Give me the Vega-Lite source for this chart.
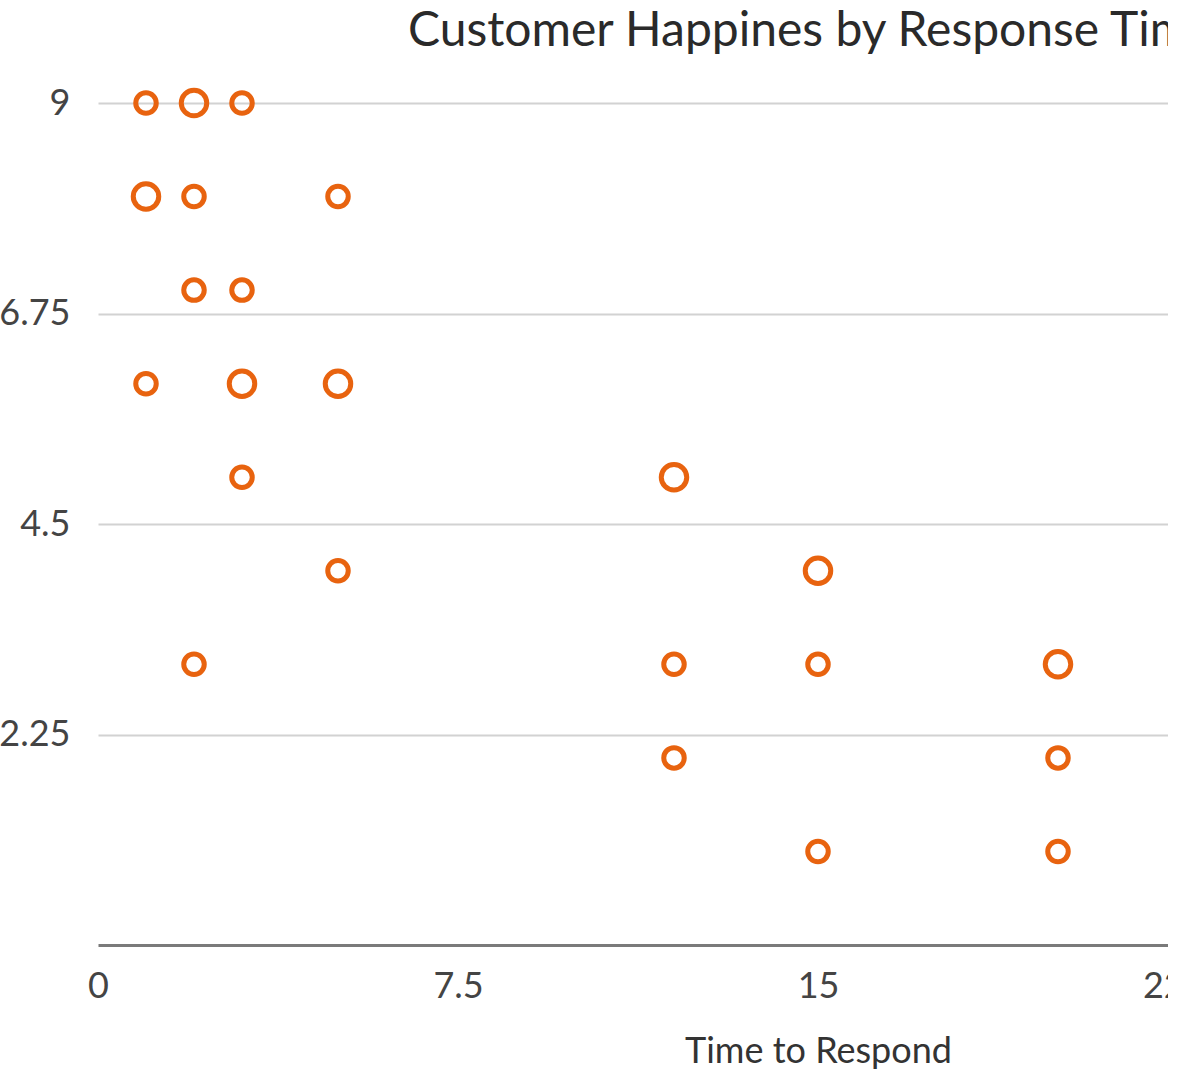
{
  "$schema": "https://vega.github.io/schema/vega-lite/v6.json",
  "autosize": {"type": "none"},
  "padding": {"left": 98, "top": 103, "right": 0, "bottom": 125},
  "width": 1070,
  "height": 842,
  "background": "white",
  "config": {
    "view": {"stroke": null},
    "font": "Lato"
  },
  "title": {
    "text": "Customer Happines by Response Time",
    "anchor": "start",
    "frame": "group",
    "dx": 310,
    "dy": 72,
    "offset": 48,
    "baseline": "bottom",
    "fontSize": 48,
    "fontWeight": "normal",
    "color": "#2a2a2a",
    "font": "Lato"
  },
  "data": {
    "values": [
      {"time": 1, "happiness": 9, "count": 1},
      {"time": 2, "happiness": 9, "count": 2},
      {"time": 3, "happiness": 9, "count": 1},
      {"time": 1, "happiness": 8, "count": 2},
      {"time": 2, "happiness": 8, "count": 1},
      {"time": 5, "happiness": 8, "count": 1},
      {"time": 2, "happiness": 7, "count": 1},
      {"time": 3, "happiness": 7, "count": 1},
      {"time": 1, "happiness": 6, "count": 1},
      {"time": 3, "happiness": 6, "count": 2},
      {"time": 5, "happiness": 6, "count": 2},
      {"time": 3, "happiness": 5, "count": 1},
      {"time": 12, "happiness": 5, "count": 2},
      {"time": 5, "happiness": 4, "count": 1},
      {"time": 15, "happiness": 4, "count": 2},
      {"time": 2, "happiness": 3, "count": 1},
      {"time": 12, "happiness": 3, "count": 1},
      {"time": 15, "happiness": 3, "count": 1},
      {"time": 20, "happiness": 3, "count": 2},
      {"time": 12, "happiness": 2, "count": 1},
      {"time": 20, "happiness": 2, "count": 1},
      {"time": 15, "happiness": 1, "count": 1},
      {"time": 20, "happiness": 1, "count": 1}
    ]
  },
  "mark": {"type": "point", "shape": "circle", "filled": false, "strokeWidth": 5, "opacity": 1, "color": "#e8630f"},
  "encoding": {
    "x": {
      "field": "time",
      "type": "quantitative",
      "title": "Time to Respond",
      "scale": {"domain": [0, 30], "range": [0, 1440], "nice": false, "zero": true},
      "axis": {
        "values": [0, 7.5, 15, 22.5, 30],
        "labelExpr": "toString(datum.value)",
        "labelFlush": false,
        "labelOverlap": false,
        "grid": false,
        "ticks": false,
        "tickSize": 0,
        "domain": true,
        "domainColor": "#7a7a7a",
        "domainWidth": 3,
        "labelFontSize": 36,
        "labelColor": "#444444",
        "labelBaseline": "alphabetic",
        "labelPadding": 52,
        "labelFont": "Lato",
        "titleFont": "Lato",
        "titleFontSize": 36,
        "titleFontWeight": "normal",
        "titleColor": "#333333",
        "titleX": 720,
        "titleY": 117,
        "titleAlign": "center",
        "titleBaseline": "alphabetic"
      }
    },
    "y": {
      "field": "happiness",
      "type": "quantitative",
      "title": null,
      "scale": {"domain": [0, 9], "nice": false, "zero": true},
      "axis": {
        "values": [2.25, 4.5, 6.75, 9],
        "labelExpr": "toString(datum.value)",
        "labelOverlap": false,
        "grid": true,
        "gridColor": "#d2d2d2",
        "gridWidth": 2,
        "ticks": false,
        "tickSize": 0,
        "domain": false,
        "labelFontSize": 36,
        "labelColor": "#444444",
        "labelPadding": 28,
        "labelFont": "Lato",
        "labelBaseline": "middle"
      }
    },
    "size": {
      "field": "count",
      "type": "quantitative",
      "scale": {"domain": [1, 2], "range": [420, 650]},
      "legend": null
    }
  }
}
